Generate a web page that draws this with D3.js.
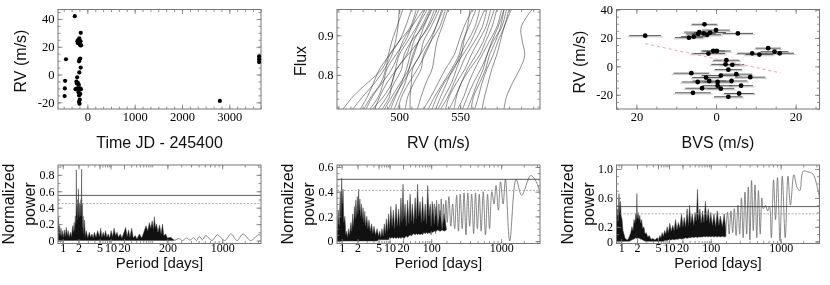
<!DOCTYPE html>
<html>
<head>
<meta charset="utf-8">
<script src="https://cdn.jsdelivr.net/npm/d3@7"></script>
<style>
    body { margin: 0; background: #fff; }
    svg { will-change: transform; }
    text { opacity: 0.999; }
    .tick text { font-family: "Liberation Serif", "Times New Roman", serif; font-size: 12.5px; fill: #000; }
    .bot .tick text { font-size: 12px; }
    .lab { font-family: "Liberation Sans", Arial, sans-serif; font-size: 16px; fill: #111; }
    .lab.small { font-size: 15px; }
</style>
</head>
<body>
<svg id="chart" width="830" height="285"></svg>
<script>
// ---- data ----

// RV time series (JD - 245400, m/s)
const rvTime = [-452, -470, -475, -480, -265, -140, -210, -190, -175, -160, -150, -130, -200, -170, -145,
    -165, -175, -150, -140, -170, -215, -230, -200, -180, -250, -210, -155, -135, -190, -165, -150, -175,
    -160, -175, -165, -220, 2800, 3630, 3630, 3630];
const rvVal = [11, -4.5, -10, -15.5, 42, 30, 24, 25, 23, 22, 21, 21, 22.5, 26, 24,
    11, 9.5, 11.5, 5, 1.5, -2, -5, -6, -7.5, -10.5, -10, -10, -10.5, -12.5, -13.5, -14, -15,
    -18, -19.5, -21, -6.5, -19, 13, 11, 9];

// line profiles: RV (m/s) at each flux level, one row per profile (bottom to top)
const fluxLevels = [0.714, 0.745, 0.78, 0.815, 0.85, 0.885, 0.92, 0.965];
const profiles = [
    [454, 462, 474, 486, 491, 494, 498, 503],
    [462, 470, 480, 488, 494, 497, 499, 500],
    [468, 474, 479, 484, 492, 500, 505, 510],
    [471, 477, 485, 489, 492, 500, 509, 514],
    [473, 478, 486, 494, 499, 503, 510, 520],
    [476, 483, 487, 490, 497, 505, 510, 516],
    [478, 487, 494, 497, 500, 507, 514, 521],
    [480, 484, 490, 498, 506, 510, 515, 523],
    [483, 490, 496, 502, 504, 510, 519, 526],
    [486, 492, 494, 498, 507, 516, 523, 529],
    [488, 494, 501, 508, 512, 516, 520, 527],
    [491, 496, 503, 510, 517, 520, 526, 533],
    [493, 497, 502, 506, 509, 512, 518, 525],
    [496, 500, 505, 508, 511, 516, 524, 531],
    [499, 502, 508, 515, 521, 526, 530, 535],
    [505, 507, 512, 518, 520, 526, 533, 538],
    [509, 509, 510, 511, 517, 524, 530, 536],
    [515, 518, 522, 527, 529, 531, 535, 540],
    [520, 526, 532, 538, 545, 549, 553, 560],
    [524, 529, 536, 543, 549, 552, 557, 563],
    [527, 531, 537, 545, 550, 556, 562, 566],
    [530, 534, 539, 544, 552, 559, 564, 570],
    [532, 537, 543, 547, 551, 553, 556, 558],
    [534, 540, 545, 550, 555, 562, 568, 572],
    [538, 541, 547, 554, 559, 565, 571, 575],
    [541, 546, 551, 556, 563, 569, 573, 578],
    [545, 547, 551, 558, 566, 571, 576, 580],
    [548, 553, 557, 562, 568, 574, 580, 584],
    [552, 556, 561, 567, 572, 576, 581, 586],
    [556, 560, 564, 569, 572, 577, 584, 588],
    [559, 561, 566, 571, 574, 579, 583, 586],
    [562, 565, 568, 572, 577, 581, 586, 590],
    [568, 570, 573, 576, 580, 583, 586, 592],
    [586, 588, 593, 599, 603, 601, 600, 609]
];

// BVS vs RV (m/s) with BVS errors
const bvsX = [-17.8, -2.9, 0, -4.2, -3.1, -2.2, -1.5, -5.6, -6.8, -4.5, 5.5,
    0.2, -0.7, -1.9,
    13.1, 14.7, 16, 9.1, 10.9,
    2.6, 2.4, 4.1, 3.1, -6.2, 1.2, 5.1, -2.5, 8.6, -4.6, -1.7, 0.4, 3.9, 0.4, -3.5, 1.2, 6.3, -5.8, 5.8, 3.1];
const bvsY = [21.6, 29.6, 25.5, 24.1, 23.2, 22.2, 23.8, 20.9, 20.2, 22.8, 23.2,
    10.8, 10.8, 9.0,
    12.8, 10.3, 9.2, 9.2, 8.3,
    4.3, 1.4, 1.1, -2.3, -4.8, -6.5, -5.5, -7.9, -7.6, -11, -10.3, -11, -10.3, -13.6, -15.4, -15.7, -13.6, -18.6, -19.1, -21.4];
const bvsErr = [4, 3.2, 3.5, 3.8, 3, 3.5, 4, 3.2, 3.5, 3, 3.8,
    3.5, 3, 4.2,
    3.2, 3.5, 3.6, 3.8, 3.5,
    3.3, 3.6, 3, 3.4, 4.5, 4.8, 4, 3.5, 3.8, 4, 4.2, 3.5, 4, 3.8, 4.2, 3.4, 3, 4.5, 3.8, 3.6];
const bvsFit = [[-17.8, 16], [16.2, -4.6]];

// periodograms: dense part [period, high, low], sparse part [period, power]
const pgRvDense = [[0.82,0.12,0],[0.84,0.28,0],[0.86,0.08,0],[0.88,0.18,0],[0.9,0.06,0],[0.93,0.15,0],[0.96,0.05,0],
    [1.0,0.12,0],[1.04,0.04,0],[1.08,0.13,0],[1.12,0.05,0],[1.17,0.16,0],[1.22,0.06,0],[1.27,0.12,0],[1.33,0.04,0],
    [1.4,0.1,0],[1.47,0.05,0],[1.55,0.18,0],[1.6,0.1,0],[1.65,0.22,0],[1.7,0.12,0],[1.74,0.3,0],[1.78,0.2,0],
    [1.8,0.42,0],[1.82,0.86,0],[1.84,0.35,0],[1.87,0.45,0],[1.9,0.25,0],[1.93,0.5,0],[1.96,0.3,0],[1.99,0.63,0],
    [2.02,0.32,0],[2.06,0.46,0],[2.1,0.28,0],[2.14,0.45,0],[2.18,0.3,0],[2.22,0.5,0],[2.26,0.35,0],[2.29,0.87,0],
    [2.32,0.3,0],[2.36,0.45,0],[2.4,0.15,0],[2.45,0.3,0],[2.5,0.08,0],[2.6,0.25,0],[2.7,0.05,0],[2.8,0.12,0],
    [3.0,0.03,0],[3.2,0.1,0],[3.4,0.04,0],[3.6,0.08,0],[3.8,0.03,0],[4.0,0.1,0],[4.3,0.04,0],[4.6,0.12,0],[5,0.05,0],
    [5.4,0.15,0],[5.8,0.04,0],[6.3,0.1,0],[6.8,0.05,0],[7.3,0.12,0],[8,0.04,0],[8.7,0.08,0],[9.5,0.03,0],
    [10.3,0.12,0],[11.2,0.05,0],[12,0.15,0],[13,0.06,0],[14,0.1,0],[15,0.04,0],[16.5,0.08,0],[18,0.03,0],
    [20,0.1,0],[22,0.16,0],[24,0.05,0],[26,0.13,0],[28,0.04,0],[31,0.15,0],[34,0.03,0],[38,0.06,0],
    [42,0.02,0],[48,0.08,0],[55,0.03,0],[62,0.1,0],[70,0.18,0],[78,0.12,0],[85,0.22,0],[92,0.15,0],
    [100,0.24,0],[106,0.14,0],[110,0.29,0],[116,0.16,0],[122,0.2,0],[130,0.1,0],[140,0.19,0],[150,0.08,0],
    [160,0.2,0],[170,0.06,0],[185,0.08,0],[200,0.03,0],[220,0.04,0],[240,0.01,0]];
const pgRvSparse = [[220,0.02],[250,0.005],[280,0.025],[310,0],[350,0.03],[390,0.005],[430,0.035],[470,0],
    [510,0.05],[560,0.01],[617,0.06],[740,0],[868,0.07],[1080,0],[1310,0.08],[1580,0],[1896,0.08],
    [2400,0],[3050,0.07],[3300,0.06]];

const pgFluxDense = [[0.82,0.05,0],[0.86,0.25,0],[0.9,0.12,0],[0.94,0.4,0],[0.97,0.2,0],[1.0,0.51,0],
    [1.03,0.3,0],[1.06,0.42,0],[1.1,0.15,0],[1.15,0.2,0],[1.2,0.05,0],[1.25,0.08,0],[1.3,0.03,0],[1.36,0.1,0],
    [1.42,0.05,0],[1.5,0.15,0],[1.56,0.08,0],[1.62,0.22,0],[1.68,0.12,0],[1.75,0.28,0],[1.8,0.18,0],
    [1.86,0.33,0],[1.92,0.2,0],[1.98,0.36,0],[2.04,0.22,0],[2.1,0.42,0],[2.16,0.25,0],[2.22,0.34,0],
    [2.3,0.2,0],[2.38,0.3,0],[2.46,0.18,0],[2.55,0.27,0],[2.65,0.15,0],[2.75,0.24,0],[2.85,0.12,0],
    [3.0,0.2,0],[3.15,0.1,0],[3.3,0.17,0],[3.5,0.08,0],[3.7,0.14,0],[3.9,0.06,0],[4.1,0.12,0],[4.4,0.05,0],
    [4.7,0.1,0],[5.0,0.04,0.01],[5.4,0.08,0.01],[5.8,0.03,0.01],[6.2,0.1,0.01],[6.7,0.04,0.01],[7.2,0.14,0.01],
    [7.7,0.06,0.01],[8.2,0.18,0.01],[8.8,0.08,0.01],[9.4,0.22,0.01],[10,0.1,0.03],[10.7,0.28,0.02],
    [11.4,0.12,0.03],[12.2,0.25,0.02],[13,0.1,0.03],[14,0.3,0.02],[15,0.12,0.03],[16,0.26,0.02],
    [17,0.12,0.03],[18,0.35,0.02],[19,0.15,0.03],[20,0.46,0.03],[21,0.18,0.02],[22.5,0.3,0.03],
    [24,0.12,0.04],[26,0.33,0.03],[28,0.14,0.04],[30,0.38,0.05],[32,0.16,0.04],[34,0.3,0.05],[37,0.14,0.06],
    [40,0.35,0.05],[43,0.18,0.06],[46,0.46,0.05],[49,0.2,0.06],[53,0.32,0.05],[57,0.15,0.06],[61,0.36,0.05],
    [66,0.16,0.07],[71,0.3,0.06],[76,0.14,0.07],[82,0.45,0.06],[88,0.2,0.07],[94,0.28,0.06],[100,0.12,0.08],
    [107,0.3,0.07],[115,0.14,0.08],[125,0.28,0.08],[135,0.12,0.09],[150,0.25,0.08],[165,0.1,0.09],
    [180,0.22,0.08],[200,0.1,0.09]];
const pgFluxSparse = [[90,0.1],[95,0.3],[100,0.05],[105,0.32],[110,0.08],[116,0.3],[122,0.06],[128,0.33],
    [135,0.1],[142,0.3],[150,0.08],[158,0.34],[166,0.12],[175,0.3],[185,0.1],[195,0.33],[205,0.15],[215,0.36],
    [228,0.12],[240,0.3],[255,0.1],[270,0.37],[285,0.08],[300,0.38],[318,0.1],[336,0.39],[355,0.05],
    [375,0.39],[396,0.12],[420,0.38],[445,0.06],[470,0.39],[497,0.1],[525,0.38],[555,0.08],[590,0.4],
    [630,0.05],[670,0.38],[710,0.1],[760,0.4],[810,0.3],[860,0.45],[920,0.25],[980,0.48],[1060,0.3],
    [1140,0.5],[1300,0],[1580,0.5],[1880,0.37],[2480,0.53],[3000,0.47],[3300,0.38]];

const pgBvsDense = [[0.82,0.2,0],[0.85,0.45,0],[0.88,0.3,0],[0.91,0.66,0],[0.94,0.4,0],[0.97,0.55,0],
    [1.0,0.35,0],[1.04,0.3,0],[1.08,0.15,0],[1.13,0.1,0],[1.18,0.05,0],[1.24,0.03,0],[1.3,0.02,0],
    [1.38,0.04,0],[1.45,0.08,0],[1.52,0.12,0.01],[1.6,0.2,0.02],[1.68,0.15,0.03],[1.75,0.3,0.03],
    [1.82,0.25,0.04],[1.9,0.38,0.05],[1.96,0.3,0.04],[1.99,0.66,0.05],[2.02,0.32,0.04],[2.1,0.4,0.05],
    [2.18,0.3,0.04],[2.26,0.36,0.04],[2.35,0.25,0.03],[2.45,0.3,0.03],[2.55,0.18,0.02],[2.7,0.2,0.01],
    [2.85,0.1,0],[3.0,0.12,0],[3.2,0.06,0],[3.4,0.08,0],[3.7,0.03,0],[4.0,0.04,0],[4.4,0.02,0],[4.8,0.05,0],
    [5.2,0.03,0],[5.6,0.08,0],[6.0,0.05,0],[6.5,0.12,0],[7.0,0.07,0],[7.6,0.15,0.01],[8.2,0.1,0.01],
    [8.9,0.2,0.01],[9.6,0.12,0.02],[10.4,0.25,0.02],[11.2,0.14,0.02],[12.1,0.22,0.03],[13,0.15,0.02],
    [14,0.3,0.03],[15,0.16,0.03],[16.2,0.26,0.03],[17.5,0.18,0.04],[19,0.38,0.03],[20.5,0.2,0.04],
    [22,0.33,0.04],[24,0.2,0.05],[26,0.45,0.04],[28,0.22,0.05],[30,0.5,0.05],[32,0.25,0.05],[35,0.38,0.06],
    [38,0.22,0.05],[41,0.4,0.06],[44,0.28,0.06],[47,0.72,0.05],[50,0.3,0.06],[54,0.45,0.06],[58,0.25,0.06],
    [63,0.42,0.06],[68,0.26,0.07],[74,0.55,0.06],[80,0.28,0.07],[87,0.45,0.06],[94,0.25,0.07],[100,0.4,0.06],
    [108,0.22,0.07],[116,0.38,0.06],[125,0.2,0.07],[135,0.42,0.06],[145,0.22,0.07],[155,0.35,0.06],
    [170,0.2,0.07],[185,0.38,0.06],[200,0.15,0.07]];
const pgBvsSparse = [[200,0.15],[210,0.4],[220,0.1],[232,0.42],[244,0.12],[256,0.45],[270,0.08],[285,0.5],
    [300,0.1],[316,0.6],[332,0.05],[350,0.68],[368,0.1],[386,0.75],[405,0.02],[425,0.84],[447,0.15],
    [470,0.78],[495,0.05],[520,0.7],[548,0.1],[575,0.6],[600,0.45],[640,0.5],[680,0.42],[720,0.48],
    [760,0.05],[810,0.85],[860,0.3],[910,0.88],[980,0],[1050,0.9],[1150,0.05],[1250,0.9],[1350,0.5],
    [1500,0.92],[1650,0.75],[1800,0.7],[2000,0.97],[2300,0.96],[2700,0.93],[3000,0.8],[3300,0.6]];

// false alarm levels (solid, dotted) for the three periodograms
const fapLevels = [[0.55, 0.45], [0.50, 0.41], [0.48, 0.38]];

// ---- layout ----
const svg = d3.select('#chart');
const lefts = [58, 337, 616.5], pw = 203;
const topY = [9.5, 109], botY = [165, 243.5];
const axisGray = '#777';

// period axis: piecewise log scale as laid out in the figure
const perKnots = [0.82, 1, 2, 5, 10, 20, 100, 200, 1000, 3300];
const perOffsets = [0, 4.7, 20.5, 41.5, 52.5, 66, 94.2, 109.4, 164.2, 203];
const perMinor = [];
[0.1, 1, 10, 100, 1000].forEach(dec => { for (let k = 1; k < 10; k++) perMinor.push(k * dec); });

const inDomain = (s, v) => {
    const d = s.domain(), lo = Math.min(d[0], d[d.length - 1]), hi = Math.max(d[0], d[d.length - 1]);
    return v >= lo - 1e-9 && v <= hi + 1e-9;
};

function axes(x, y, o) {
    const [xa, xb] = [x.range()[0], x.range()[x.range().length - 1]];
    const [yb, ya] = y.range();
    const g = svg.append('g').attr('class', o.cls || '');
    const blank = () => '';
    const clean = sel => {
        sel.select('.domain').remove();
        sel.selectAll('line').attr('stroke', axisGray).attr('stroke-width', 0.8);
    };
    const mk = (axis, tr, vals, size, fmt, pad) => g.append('g').attr('transform', tr)
        .call(axis.tickValues(vals.filter(v => inDomain(axis.scale(), v)))
            .tickSizeInner(size).tickSizeOuter(0).tickPadding(pad).tickFormat(fmt || blank))
        .call(clean);

    mk(d3.axisBottom(x), `translate(0,${yb})`, o.xMajor, -4.5, o.xFmt, o.xPad);
    mk(d3.axisBottom(x), `translate(0,${yb})`, o.xMinor, -2.5, null, 0);
    mk(d3.axisTop(x), `translate(0,${ya})`, o.xMajor, -4.5, null, 0);
    mk(d3.axisTop(x), `translate(0,${ya})`, o.xMinor, -2.5, null, 0);
    mk(d3.axisLeft(y), `translate(${xa},0)`, o.yMajor, -4.5, o.yFmt, 3.5);
    mk(d3.axisLeft(y), `translate(${xa},0)`, o.yMinor, -2.5, null, 0);
    mk(d3.axisRight(y), `translate(${xb},0)`, o.yMajor, -4.5, null, 0);
    mk(d3.axisRight(y), `translate(${xb},0)`, o.yMinor, -2.5, null, 0);

    g.append('rect')
        .attr('x', xa).attr('y', ya).attr('width', xb - xa).attr('height', yb - ya)
        .attr('fill', 'none').attr('stroke', axisGray).attr('stroke-width', 1);
}

function clip(id, x, y) {
    svg.append('clipPath').attr('id', id).append('rect')
        .attr('x', x.range()[0]).attr('y', y.range()[1])
        .attr('width', x.range()[x.range().length - 1] - x.range()[0])
        .attr('height', y.range()[0] - y.range()[1]);
    return `url(#${id})`;
}

function yLabel(lines, x0, yc) {
    lines.forEach(([t, off]) => {
        svg.append('text').attr('class', 'lab')
            .attr('transform', `translate(${x0 - off},${yc}) rotate(-90)`)
            .attr('text-anchor', 'middle').text(t);
    });
}

function xLabel(t, x, yb, cls) {
    svg.append('text').attr('class', 'lab' + (cls ? ' ' + cls : ''))
        .attr('x', (x.range()[0] + x.range()[x.range().length - 1]) / 2).attr('y', yb)
        .attr('text-anchor', 'middle').text(t);
}

const stepRange = (a, b, s) => d3.range(Math.round(a / s), Math.round(b / s) + 1).map(k => +(k * s).toFixed(6));
const fmtDec = d => d === 0 ? '0' : d.toFixed(1);

// ---- panel 1: RV vs time ----
{
    const x = d3.scaleLinear().domain([-620, 3670]).range([lefts[0], lefts[0] + pw]);
    const y = d3.scaleLinear().domain([-24.8, 46.8]).range([topY[1], topY[0]]);
    axes(x, y, {
        xMajor: [0, 1000, 2000, 3000], xMinor: d3.range(-3, 23).map(k => k * 1000 / 6), xFmt: d3.format('d'), xPad: 3,
        yMajor: [-20, 0, 20, 40], yMinor: stepRange(-25, 45, 5), yFmt: d => String(d)
    });
    svg.append('g').selectAll('circle').data(rvTime).join('circle')
        .attr('cx', d => x(d)).attr('cy', (d, i) => y(rvVal[i])).attr('r', 2.1).attr('fill', '#000');
    yLabel([['RV (m/s)', 32]], lefts[0], 61);
    xLabel('Time JD - 245400', x, 148);
}

// ---- panel 2: line profiles ----
{
    const x = d3.scaleLinear().domain([449, 615.5]).range([lefts[1], lefts[1] + pw]);
    const y = d3.scaleLinear().domain([0.714, 0.965]).range([topY[1], topY[0]]);
    const line = d3.line().x(d => x(d[0])).y(d => y(d[1])).curve(d3.curveCatmullRom);
    svg.append('g').attr('clip-path', clip('c2', x, y))
        .selectAll('path').data(profiles).join('path')
        .attr('d', p => line(p.map((v, i) => [v, fluxLevels[i]])))
        .attr('fill', 'none').attr('stroke', '#333').attr('stroke-width', 0.65).attr('stroke-opacity', 0.85);
    axes(x, y, {
        xMajor: [500, 550], xMinor: stepRange(450, 610, 10), xFmt: d3.format('d'), xPad: 3,
        yMajor: [0.8, 0.9], yMinor: stepRange(0.72, 0.96, 0.02), yFmt: fmtDec
    });
    yLabel([['Flux', 31]], lefts[1], 61);
    xLabel('RV (m/s)', x, 148);
}

// ---- panel 3: RV vs BVS ----
{
    const x = d3.scaleLinear().domain([-25, 26]).range([lefts[2], lefts[2] + pw]);
    const y = d3.scaleLinear().domain([-30, 40]).range([topY[1], topY[0]]);
    const g = svg.append('g').attr('clip-path', clip('c3', x, y));
    g.selectAll('line.eb2').data(bvsX).join('line').attr('class', 'eb2')
        .attr('x1', (d, i) => x(d - bvsErr[i] * 1.1)).attr('x2', (d, i) => x(d + bvsErr[i] * 1.1))
        .attr('y1', (d, i) => y(bvsY[i]) + 1.2).attr('y2', (d, i) => y(bvsY[i]) + 1.2)
        .attr('stroke', '#c8c8c8').attr('stroke-width', 1);
    g.selectAll('line.eb').data(bvsX).join('line').attr('class', 'eb')
        .attr('x1', (d, i) => x(d - bvsErr[i])).attr('x2', (d, i) => x(d + bvsErr[i]))
        .attr('y1', (d, i) => y(bvsY[i])).attr('y2', (d, i) => y(bvsY[i]))
        .attr('stroke', '#555').attr('stroke-width', 1);
    g.append('path').attr('d', d3.line().x(d => x(d[0])).y(d => y(d[1]))(bvsFit))
        .attr('stroke', '#f4a0a0').attr('stroke-width', 1).attr('stroke-dasharray', '3,3').attr('fill', 'none');
    g.selectAll('circle').data(bvsX).join('circle')
        .attr('cx', d => x(d)).attr('cy', (d, i) => y(bvsY[i])).attr('r', 2.4).attr('fill', '#000');
    axes(x, y, {
        xMajor: [-20, 0, 20], xMinor: stepRange(-25, 25, 5), xFmt: d => String(Math.abs(d)), xPad: 3,
        yMajor: [-20, 0, 20, 40], yMinor: stepRange(-30, 40, 5), yFmt: d => String(d)
    });
    yLabel([['RV (m/s)', 32]], lefts[2], 62);
    xLabel('BVS (m/s)', x, 148);
}

// ---- bottom row: periodograms ----
const pgPanels = [
    { dense: pgRvDense, sparse: pgRvSparse, yDom: [-0.036, 0.92], yMajor: [0, 0.2, 0.4, 0.6, 0.8], yMinor: 0.1,
      xMajor: [1, 2, 5, 10, 20, 200, 1000] },
    { dense: pgFluxDense, sparse: pgFluxSparse, yDom: [-0.02, 0.616], yMajor: [0, 0.2, 0.4, 0.6], yMinor: 0.05,
      xMajor: [1, 2, 5, 10, 20, 100, 1000] },
    { dense: pgBvsDense, sparse: pgBvsSparse, yDom: [-0.03, 1.055], yMajor: [0, 0.2, 0.6, 1.0], yMinor: 0.1,
      xMajor: [1, 2, 5, 10, 20, 100, 1000] }
];

pgPanels.forEach((p, k) => {
    const x = d3.scaleLog().domain(perKnots).range(perOffsets.map(v => lefts[k] + v));
    const y = d3.scaleLinear().domain(p.yDom).range([botY[1], botY[0]]);
    const g = svg.append('g').attr('clip-path', clip('cp' + k, x, y));

    g.append('path')
        .attr('d', d3.line().x(d => x(d[0])).y(d => y(d[1])).curve(d3.curveCatmullRom)(p.sparse))
        .attr('fill', 'none').attr('stroke', '#6a6a6a').attr('stroke-width', 0.8);
    g.append('path')
        .attr('d', d3.area().x(d => x(d[0])).y0(d => y(d[2])).y1(d => y(d[1]))(p.dense))
        .attr('fill', '#111').attr('stroke', '#444').attr('stroke-width', 0.5);

    const [solid, dotted] = fapLevels[k];
    g.append('line').attr('x1', x.range()[0]).attr('x2', x.range()[x.range().length - 1])
        .attr('y1', y(solid)).attr('y2', y(solid)).attr('stroke', '#333').attr('stroke-width', 0.8);
    g.append('line').attr('x1', x.range()[0]).attr('x2', x.range()[x.range().length - 1])
        .attr('y1', y(dotted)).attr('y2', y(dotted)).attr('stroke', '#999').attr('stroke-width', 0.8)
        .attr('stroke-dasharray', '2,1.5');

    axes(x, y, {
        cls: 'bot',
        xMajor: p.xMajor, xMinor: perMinor, xFmt: d => String(d), xPad: 0,
        yMajor: p.yMajor, yMinor: stepRange(0, p.yDom[1], p.yMinor), yFmt: fmtDec
    });
    yLabel([['Normalized', 44], ['power', 23]], lefts[k], 204);
    xLabel('Period [days]', x, 268, 'small');
});
</script>
</body>
</html>
